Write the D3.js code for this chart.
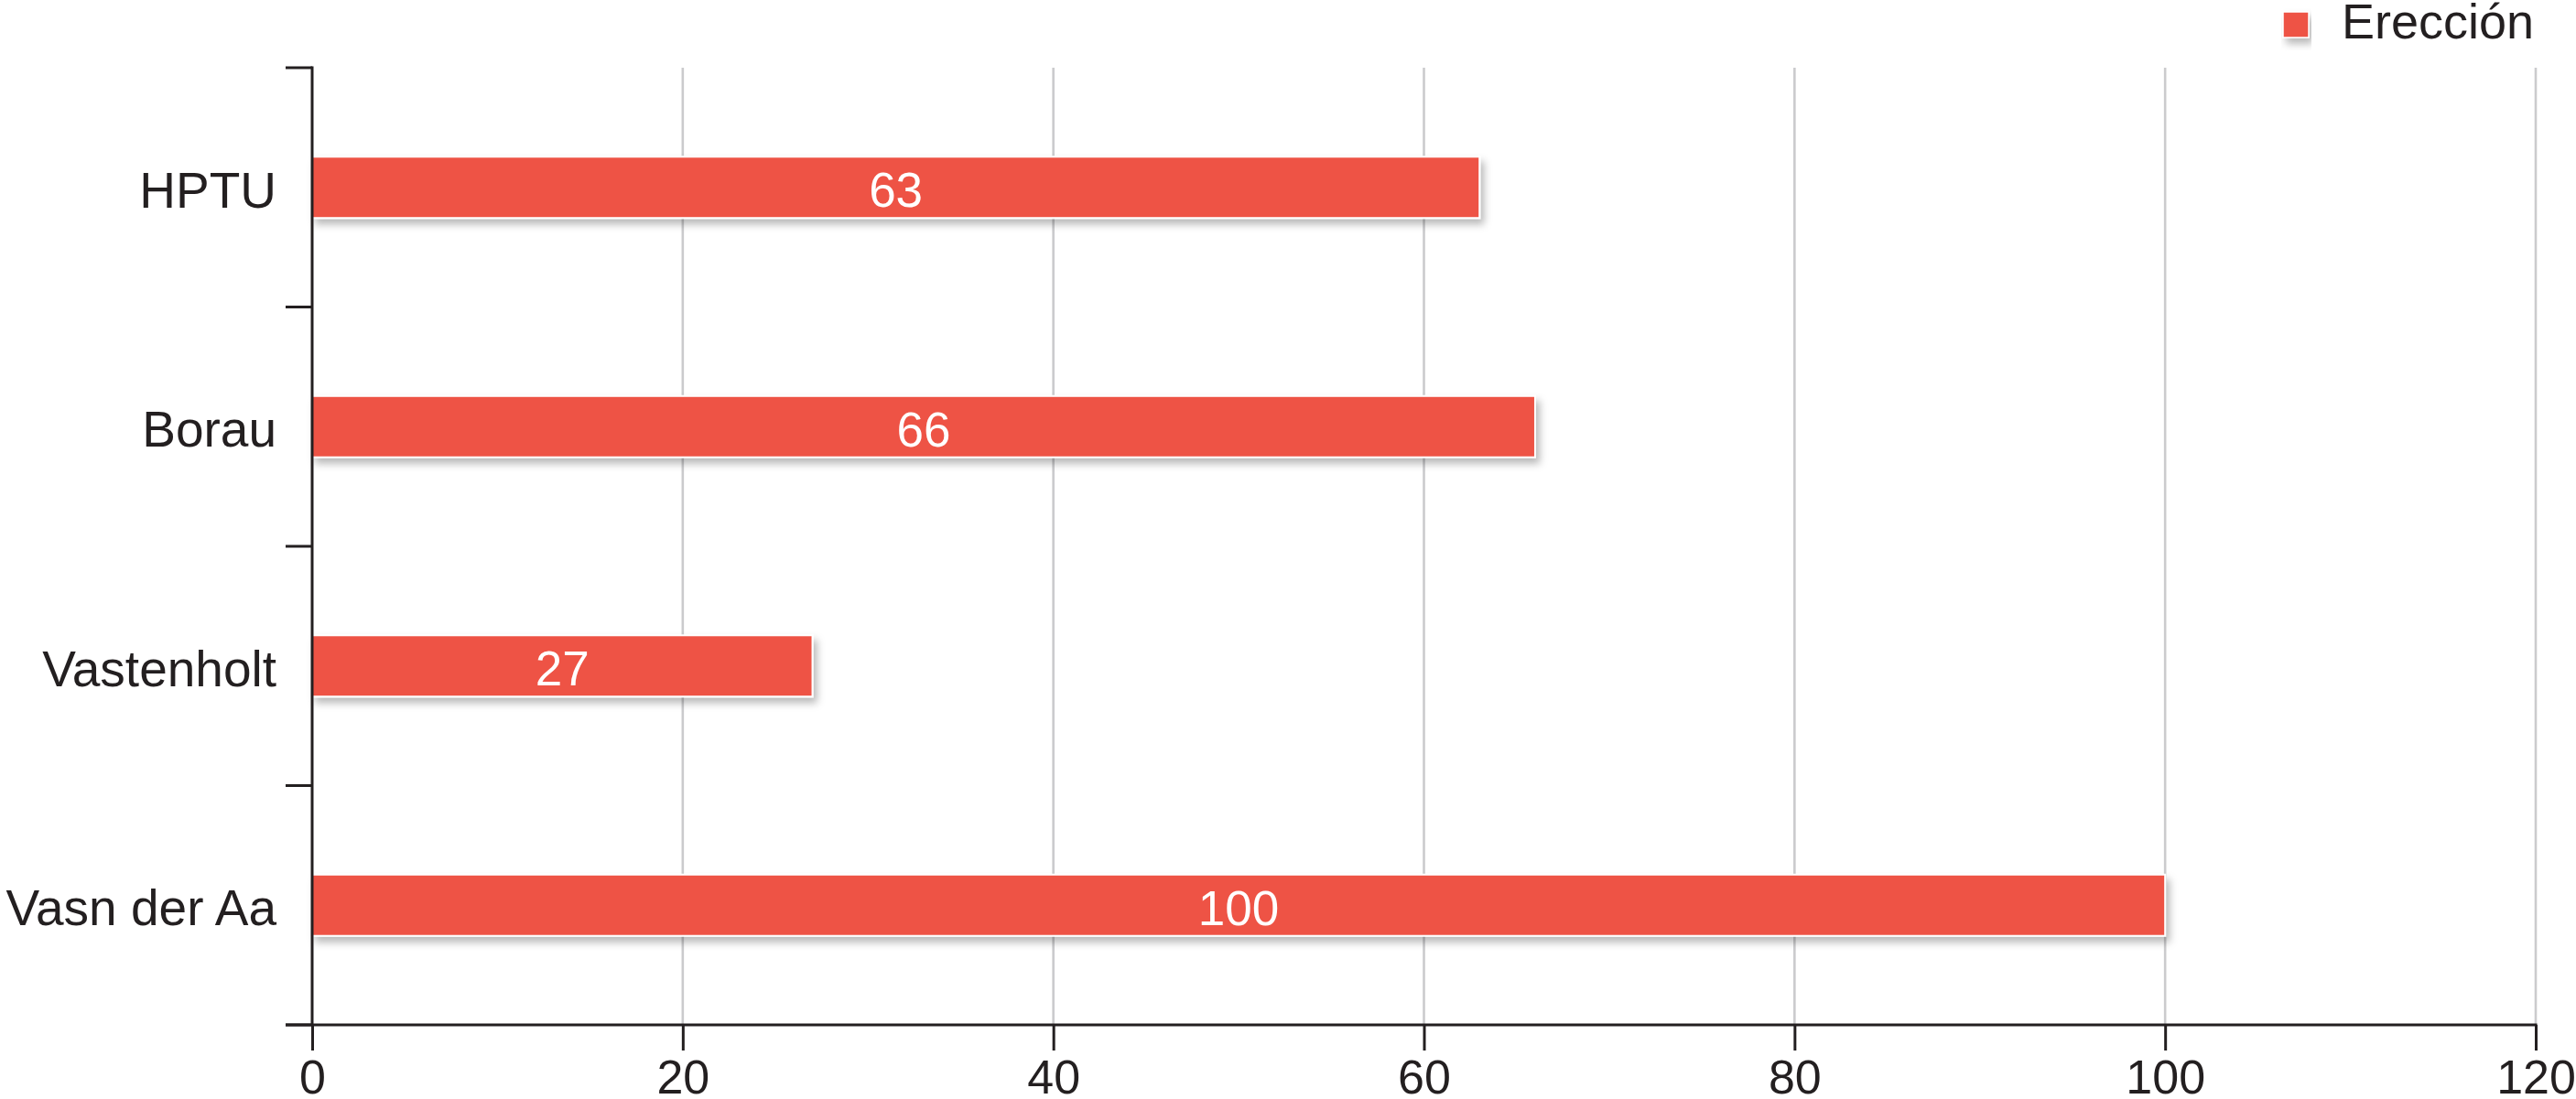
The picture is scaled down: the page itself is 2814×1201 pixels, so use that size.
<!DOCTYPE html>
<html>
<head>
<meta charset="utf-8">
<script src="https://cdn.jsdelivr.net/npm/d3@7"></script>
<style>
  body { margin: 0; background: #fff; }
  svg text { font-family: "Liberation Sans", Arial, Helvetica, sans-serif; fill: #231f20; }
</style>
</head>
<body>
<div id="chart"></div>
<script>
// data
const categories = ["HPTU", "Borau", "Vastenholt", "Vasn der Aa"];
const ereccion = [63, 66, 27, 100];
const xTicks = [0, 20, 40, 60, 80, 100, 120];
const seriesName = "Erección";

let width = 2814, height = 1201;
let margin = {top: 74, right: 44, bottom: 81, left: 341};
let barColor = "#ee5244", ink = "#231f20";

let svg = d3.select("#chart").append("svg")
    .attr("width", width)
    .attr("height", height);

// soft drop shadow under bars and legend swatch
let defs = svg.append("defs");
defs.append("filter")
    .attr("id", "shadow")
    .attr("x", "-5%").attr("y", "-30%")
    .attr("width", "115%").attr("height", "180%")
    .append("feDropShadow")
    .attr("dx", 4).attr("dy", 6)
    .attr("stdDeviation", 4)
    .attr("flood-color", "#000")
    .attr("flood-opacity", 0.28);

let x = d3.scaleLinear()
    .domain([0, 120])
    .range([margin.left, width - margin.right]);

let y = d3.scaleBand()
    .domain(categories)
    .range([margin.top, height - margin.bottom]);

let barH = y.bandwidth() * 0.256;

////////// gridlines //////////
svg.append("g")
    .attr("class", "grid")
    .selectAll("line")
    .data(xTicks.filter(d => d > 0))
    .enter().append("line")
    .attr("x1", x).attr("x2", x)
    .attr("y1", y.range()[0])
    .attr("y2", y.range()[1])
    .attr("stroke", "#cbcbcd")
    .attr("stroke-width", 2.6);

////////// bars //////////
let bars = svg.append("g").attr("class", "bars");
bars.selectAll("rect")
    .data(categories)
    .enter().append("rect")
    .attr("x", x(0))
    .attr("y", d => y(d) + (y.bandwidth() - barH) / 2)
    .attr("width", (d, i) => x(ereccion[i]) - x(0))
    .attr("height", barH)
    .attr("fill", barColor)
    .attr("stroke", "#fff")
    .attr("stroke-width", 2)
    .attr("filter", "url(#shadow)");

bars.selectAll("text")
    .data(categories)
    .enter().append("text")
    .attr("x", (d, i) => x(ereccion[i] / 2))
    .attr("y", d => y(d) + y.bandwidth() / 2)
    .attr("dy", "0.41em")
    .attr("text-anchor", "middle")
    .style("fill", "#fff")
    .style("font-size", "53px")
    .text((d, i) => ereccion[i]);

////////// x axis //////////
let xAxis = svg.append("g")
    .attr("transform", "translate(0," + y.range()[1] + ")")
    .call(d3.axisBottom(x).tickValues(xTicks).tickSize(28).tickPadding(10).tickSizeOuter(0));
xAxis.select(".domain").remove();
xAxis.append("line")
    .attr("x1", x(0) - 29).attr("x2", x(120) + 1.5)
    .attr("stroke", ink).attr("stroke-width", 3);
xAxis.selectAll(".tick line").attr("stroke", ink).attr("stroke-width", 3);
xAxis.selectAll(".tick text").style("font-size", "52px").style("fill", ink);

////////// y axis //////////
let yAxis = svg.append("g")
    .attr("transform", "translate(" + x(0) + ",0)")
    .call(d3.axisLeft(y).tickSize(0).tickPadding(39));
yAxis.select(".domain").remove();
yAxis.selectAll(".tick text")
    .style("font-size", "55px")
    .style("fill", ink)
    .attr("dy", "0.4em");
yAxis.append("line")
    .attr("y1", y.range()[0] - 1.5).attr("y2", y.range()[1])
    .attr("stroke", ink).attr("stroke-width", 3);
// ticks sit on the band boundaries, not on the labels
let bounds = categories.map(d => y(d)).concat([y.range()[1]]);
yAxis.selectAll(".bound")
    .data(bounds)
    .enter().append("line")
    .attr("class", "bound")
    .attr("x1", -29).attr("x2", 0)
    .attr("y1", d => d).attr("y2", d => d)
    .attr("stroke", ink).attr("stroke-width", 3);

////////// legend //////////
let legend = svg.append("g").attr("transform", "translate(2494,13)");
legend.append("rect")
    .attr("width", 28).attr("height", 28)
    .attr("fill", barColor)
    .attr("stroke", "#fff").attr("stroke-width", 1.5)
    .attr("filter", "url(#shadow)");
legend.append("text")
    .attr("x", 64).attr("y", 29)
    .style("font-size", "54px")
    .style("fill", ink)
    .text(seriesName);
</script>
</body>
</html>
